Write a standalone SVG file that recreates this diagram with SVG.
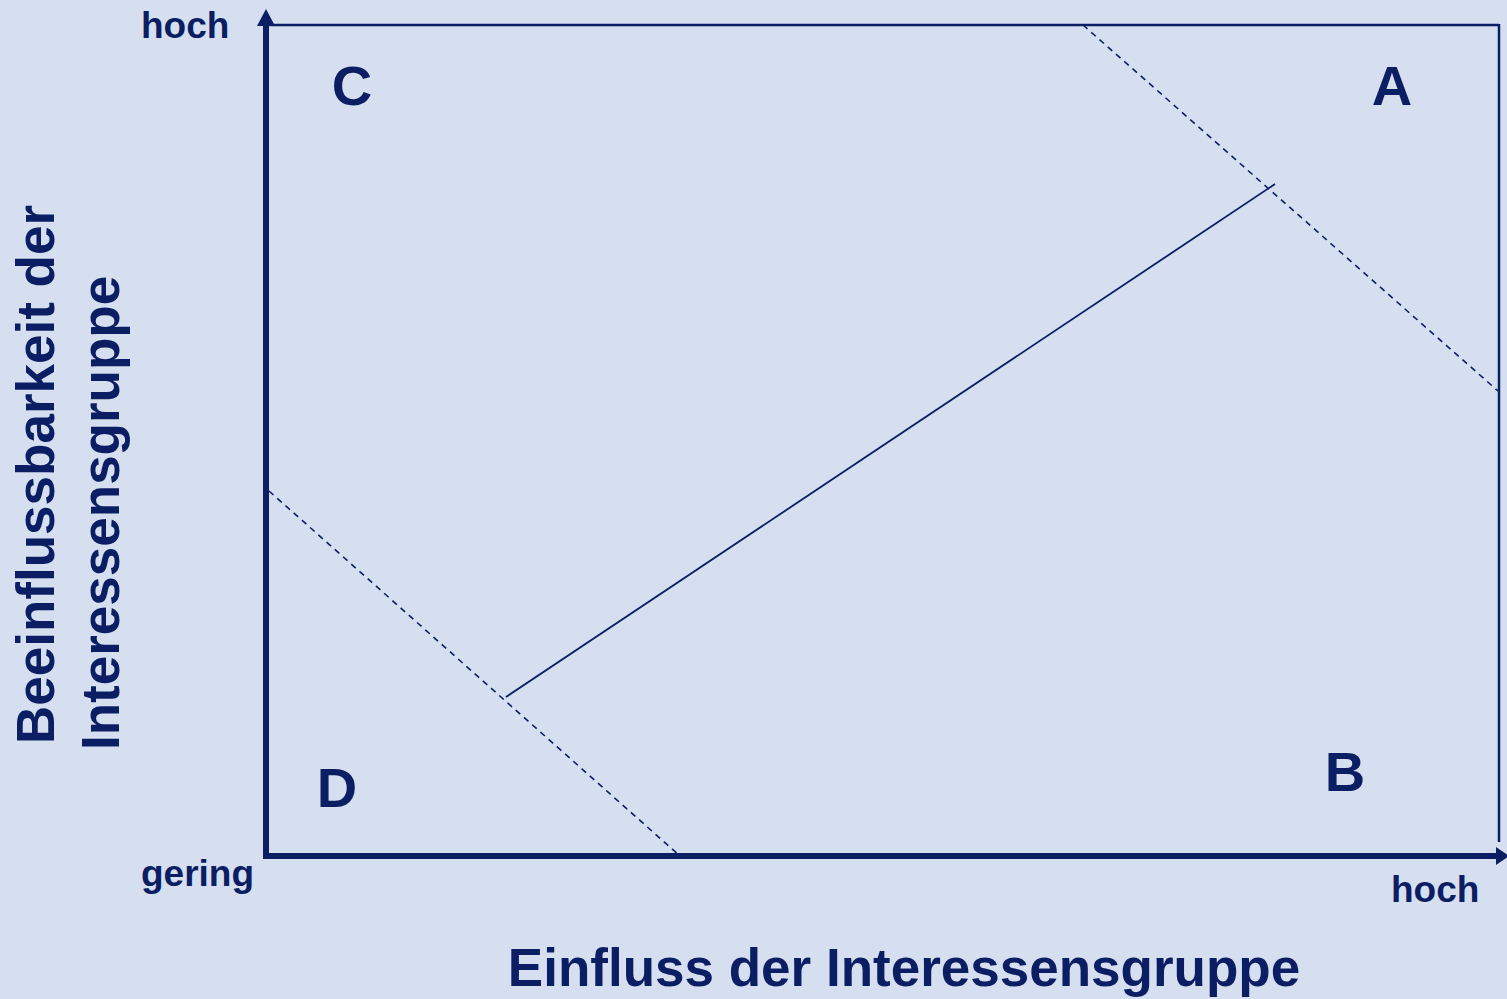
<svg xmlns="http://www.w3.org/2000/svg" width="1507" height="999" viewBox="0 0 1507 999">
<style>
.t{font-family:"Liberation Sans",Arial,sans-serif;font-weight:bold;fill:#0B1E64}
.ax{stroke:#0B1E64;fill:none}
.dash{stroke:#0B1E64;stroke-width:1.6;stroke-dasharray:6 5;fill:none}
</style>
<rect width="1507" height="999" fill="#D6DFEF"/>
<g id="frame">
<line class="ax" x1="266" y1="25" x2="1499" y2="25" stroke-width="2.5"/>
<line class="ax" x1="1499" y1="24" x2="1499" y2="842" stroke-width="2.5"/>
</g>
<g id="axes">
<line class="ax" x1="266" y1="859" x2="266" y2="22" stroke-width="6"/>
<polygon points="266,9 257,26 275,26" fill="#0B1E64"/>
<line class="ax" x1="263" y1="856" x2="1498" y2="856" stroke-width="6"/>
<polygon points="1509,856 1496,847 1496,865" fill="#0B1E64"/>
</g>
<g id="connectors">
<line class="dash" x1="1083" y1="25" x2="1498" y2="391"/>
<line class="dash" x1="269" y1="491" x2="680" y2="856"/>
<line class="ax" x1="506" y1="697" x2="1275" y2="184" stroke-width="1.8"/>
</g>
<g id="quadrant-labels">
<text class="t" x="352" y="105" font-size="56" text-anchor="middle">C</text>
<text class="t" x="1392" y="105" font-size="56" text-anchor="middle">A</text>
<text class="t" x="337" y="807" font-size="56" text-anchor="middle">D</text>
<text class="t" x="1345" y="791" font-size="56" text-anchor="middle">B</text>
</g>
<g id="axis-labels">
<text class="t" x="141" y="38" font-size="37">hoch</text>
<text class="t" x="141" y="886" font-size="37">gering</text>
<text class="t" x="1391" y="902" font-size="37">hoch</text>
<text class="t" x="904" y="986" font-size="53" text-anchor="middle">Einfluss der Interessensgruppe</text>
<text class="t" font-size="53" transform="translate(54,744) rotate(-90)">Beeinflussbarkeit der</text>
<text class="t" font-size="53" transform="translate(119,750) rotate(-90)">Interessensgruppe</text>
</g>
</svg>
